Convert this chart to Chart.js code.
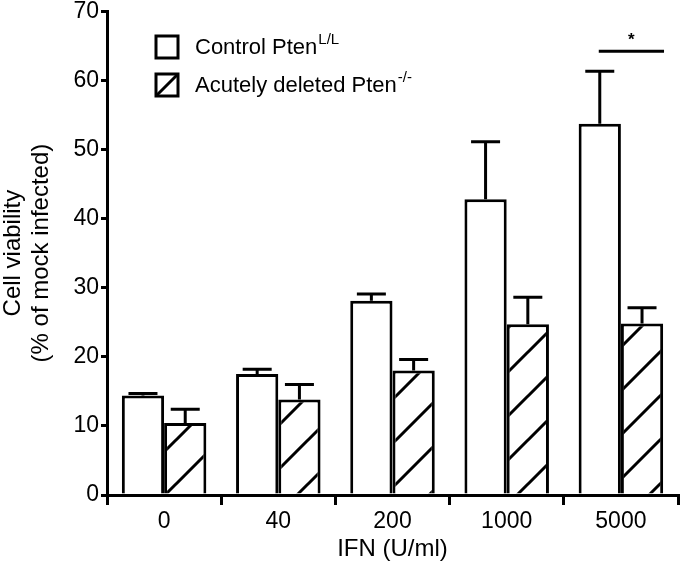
<!DOCTYPE html>
<html>
<head>
<meta charset="utf-8">
<script src="https://cdn.jsdelivr.net/npm/chart.js@4"></script>
<style>
  html, body { margin: 0; padding: 0; background: #fff; }
  #wrap { width: 680px; height: 565px; position: relative; }
</style>
</head>
<body>
<div id="wrap"><canvas id="chart"></canvas></div>
<script>
// data
const doses = ['0', '40', '200', '1000', '5000'];
const controlMean = [14.4, 17.5, 28.1, 42.8, 53.7];
const controlSem = [0.3, 0.7, 1.0, 8.3, 7.6];
const deletedMean = [10.4, 13.8, 18.0, 24.7, 24.8];
const deletedSem = [2.0, 2.2, 1.6, 3.9, 2.3];
const yTicks = [0, 10, 20, 30, 40, 50, 60, 70];
const sigBar = { from: 4, value: 64.2, label: '*' };

const FONT = 'Liberation Sans, Arial, sans-serif';

// diagonal hatch pattern for the Pten-/- bars
function makeHatch() {
    const s = 44;
    const c = document.createElement('canvas');
    c.width = s; c.height = s;
    const g = c.getContext('2d');
    g.fillStyle = '#fff';
    g.fillRect(0, 0, s, s);
    g.strokeStyle = '#000';
    g.lineWidth = 3;
    g.beginPath();
    g.moveTo(-4, s + 4); g.lineTo(s + 4, -4);
    g.moveTo(-4, 4); g.lineTo(4, -4);
    g.moveTo(s - 4, s + 4); g.lineTo(s + 4, s - 4);
    g.stroke();
    return g.createPattern(c, 'repeat');
}
const hatch = makeHatch();

const errorBars = {
    id: 'errorBars',
    afterDatasetsDraw(chart) {
        const ctx = chart.ctx;
        const y = chart.scales.y;
        const sems = [controlSem, deletedSem];
        ctx.save();
        ctx.strokeStyle = '#000';
        ctx.lineWidth = 3;
        chart.data.datasets.forEach((ds, i) => {
            chart.getDatasetMeta(i).data.forEach((bar, j) => {
                const top = y.getPixelForValue(ds.data[j] + sems[i][j]);
                const base = y.getPixelForValue(ds.data[j]);
                ctx.beginPath();
                ctx.moveTo(bar.x, base);
                ctx.lineTo(bar.x, top);
                ctx.moveTo(bar.x - 14.5, top);
                ctx.lineTo(bar.x + 14.5, top);
                ctx.stroke();
            });
        });
        // significance line over the 5000 group
        const b0 = chart.getDatasetMeta(0).data[sigBar.from];
        const b1 = chart.getDatasetMeta(1).data[sigBar.from];
        const sy = y.getPixelForValue(sigBar.value);
        const x0 = b0.x - 1, x1 = b1.x + 22;
        ctx.beginPath();
        ctx.moveTo(x0, sy);
        ctx.lineTo(x1, sy);
        ctx.stroke();
        ctx.fillStyle = '#000';
        ctx.font = 'bold 17px ' + FONT;
        ctx.textAlign = 'center';
        ctx.textBaseline = 'middle';
        ctx.fillText(sigBar.label, (x0 + x1) / 2, sy - 11);
        ctx.restore();
    }
};

// legend with superscripts
const legendBox = {
    id: 'legendBox',
    afterDraw(chart) {
        const ctx = chart.ctx;
        const items = [
            { hatched: false, text: 'Control Pten', sup: 'L/L', y: 47 },
            { hatched: true, text: 'Acutely deleted Pten', sup: '-/-', y: 85 }
        ];
        ctx.save();
        items.forEach(it => {
            const bx = 156, s = 22, by = it.y - 11;
            ctx.fillStyle = '#fff';
            ctx.fillRect(bx, by, s, s);
            ctx.lineWidth = 3;
            ctx.strokeStyle = '#000';
            if (it.hatched) {
                ctx.beginPath();
                ctx.moveTo(bx, by + s);
                ctx.lineTo(bx + s, by);
                ctx.stroke();
            }
            ctx.strokeRect(bx, by, s, s);
            ctx.fillStyle = '#000';
            ctx.textBaseline = 'middle';
            ctx.textAlign = 'left';
            ctx.font = '22px ' + FONT;
            ctx.fillText(it.text, 195, it.y + 1);
            const w = ctx.measureText(it.text).width;
            ctx.font = '15px ' + FONT;
            ctx.fillText(it.sup, 195 + w + 1, it.y - 7);
        });
        ctx.restore();
    }
};

new Chart(document.getElementById('chart'), {
    type: 'bar',
    data: {
        labels: doses,
        datasets: [{
            label: 'Control Pten L/L',
            data: controlMean,
            backgroundColor: '#fff',
            borderColor: '#000',
            borderWidth: 3,
            borderSkipped: 'start'
        }, {
            label: 'Acutely deleted Pten -/-',
            data: deletedMean,
            backgroundColor: hatch,
            borderColor: '#000',
            borderWidth: 3,
            borderSkipped: 'start'
        }]
    },
    options: {
        responsive: true,
        maintainAspectRatio: false,
        animation: false,
        categoryPercentage: 0.74,
        barPercentage: 1.0,
        layout: { padding: { top: 10, right: 2, left: 0, bottom: 0 } },
        plugins: {
            legend: { display: false },
            tooltip: { enabled: false }
        },
        scales: {
            x: {
                offset: true,
                grid: {
                    offset: true,
                    drawOnChartArea: false,
                    color: '#000',
                    lineWidth: 3,
                    tickLength: 10
                },
                border: { display: true, color: '#000', width: 3 },
                ticks: { color: '#000', font: { family: FONT, size: 23 }, padding: 3 },
                title: {
                    display: true,
                    text: 'IFN (U/ml)',
                    color: '#000',
                    font: { family: FONT, size: 24 },
                    padding: { top: 0, bottom: 1 }
                },
                afterFit(scale) { scale.height = 70; }
            },
            y: {
                min: 0,
                max: 70,
                afterBuildTicks(scale) { scale.ticks = yTicks.map(v => ({ value: v })); },
                grid: {
                    drawOnChartArea: false,
                    color: '#000',
                    lineWidth: 3,
                    tickLength: 6
                },
                border: { display: true, color: '#000', width: 3 },
                ticks: { color: '#000', font: { family: FONT, size: 23, lineHeight: 0.8 }, padding: 2 },
                title: {
                    display: true,
                    text: ['Cell viability', '(% of mock infected)'],
                    color: '#000',
                    font: { family: FONT, size: 24, lineHeight: 1.15 },
                    padding: 0
                },
                afterFit(scale) { scale.width = 107; }
            }
        }
    },
    plugins: [errorBars, legendBox]
});
</script>
</body>
</html>
